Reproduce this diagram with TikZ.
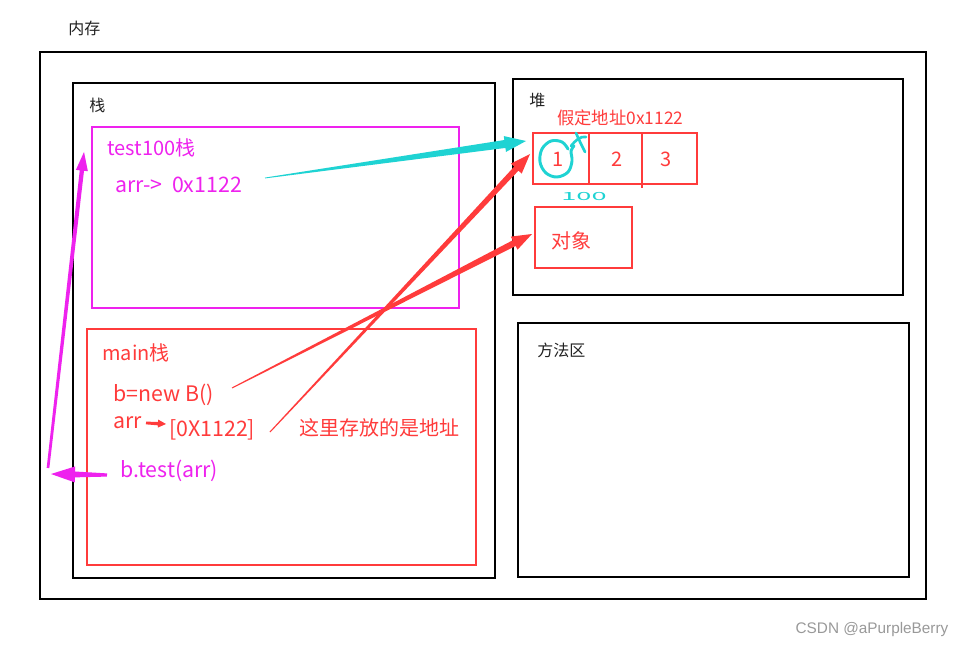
\documentclass[tikz,border=0pt]{standalone}
\usepackage{fontspec}
\setmainfont{Noto Sans CJK SC}
\newfontfamily\wmfont{Liberation Sans}
\usetikzlibrary{calc}
\definecolor{mag}{HTML}{EE22EE}
\definecolor{rd}{HTML}{FF3B3B}
\definecolor{cy}{HTML}{1FD3D3}
\definecolor{dk}{HTML}{222222}
\newcommand\taparrow[7]{%
 \coordinate (tH) at ($(#3)!#6!(#2)$);
 \fill[#1] ($(#2)!#4!90:(#3)$) -- ($(tH)!#5!-90:(#2)$) -- ($(tH)!#7!-90:(#2)$) -- (#3)
   -- ($(tH)!#7!90:(#2)$) -- ($(tH)!#5!90:(#2)$) -- ($(#2)!#4!-90:(#3)$) -- cycle;}
\begin{document}
\begin{tikzpicture}[x=0.75pt,y=-0.75pt,
  blk/.style={draw=black, line width=1.5pt},
  redbox/.style={draw=rd, line width=2pt},
  magbox/.style={draw=mag, line width=2pt},
  lbl/.style={anchor=west, inner sep=0pt, font=\fontsize{15}{18}\selectfont},
  lat/.style={anchor=west, inner sep=0pt, font=\fontsize{16}{19}\selectfont},
  sml/.style={anchor=west, inner sep=0pt, text=dk, font=\fontsize{12}{14}\selectfont},
  ]
\fill[white] (0,0) rectangle (970,649);
\useasboundingbox (0,0) rectangle (970,649);
% labels
\node[sml] (memt) at (68,28) {内存};
% boxes
\draw[blk] (40,52) rectangle (926,599);
\draw[blk] (73,83) rectangle (495,578);
\node[sml] (stackt) at (89,105) {栈};
\draw[magbox] (92,127) rectangle (459,308);
\node[lbl, text=mag] (t100) at (107,148) {test100栈};
\node[lat, text=mag] (arr1) at (115,185) {arr->\ \ 0x1122};
\draw[redbox] (87,329) rectangle (476,565);
\node[lbl, text=rd] (mainl) at (102,353) {main栈};
\node[lat, text=rd] (bnew) at (113,395) {b=new B()};
\node[lat, text=rd] (arr2) at (113,423) {arr};
\node[lat, text=rd] (addr) at (169,430) {[0X1122]};
\node[lat, text=mag] (btest) at (120,471) {b.test(arr)};
\node[lbl, text=rd] (note) at (299,428) {这里存放的是地址};
% heap
\draw[blk] (513,79) rectangle (903,295);
\node[sml] (heapt) at (529,100) {堆};
\node[anchor=west, inner sep=0pt, text=rd, font=\fontsize{13}{16}\selectfont] (fake) at (557,118) {假定地址0x1122};
\draw[redbox] (533,133) rectangle (697,184);
\draw[rd, line width=2pt] (589,133) -- (589,184);
\draw[rd, line width=2pt] (642,133) -- (642,188);
\node[inner sep=0pt, text=rd, font=\fontsize{15}{18}\selectfont] (c1) at (558,159) {1};
\node[inner sep=0pt, text=rd, font=\fontsize{15}{18}\selectfont] (c2) at (617,159) {2};
\node[inner sep=0pt, text=rd, font=\fontsize{15}{18}\selectfont] (c3) at (666,159) {3};
\draw[redbox] (535,207) rectangle (632,268);
\node[lbl, text=rd] (obj) at (551,241) {对象};
% method area
\draw[blk] (518,323) rectangle (909,577);
\node[sml] (meth) at (537,350) {方法区};
% cyan doodles
\draw[cy, line width=2.2pt, line cap=round] plot[smooth, tension=0.6] coordinates {(568,149) (562,142) (551,141) (542,149) (540,162) (546,173) (557,177) (568,172) (572,161) (571,151) (574,146)};
\draw[cy, line width=2pt, line cap=round] (571,146) .. controls (576,140) and (580,136) .. (586,137);
\draw[cy, line width=2pt, line cap=round] (576,133) .. controls (579,140) and (582,146) .. (585,152);
\node[inner sep=0pt, text=cy, font=\fontsize{12}{14}\selectfont, xscale=1.7, yscale=0.7] (hundred) at (584,197) {100};
% coordinates for connectors
\coordinate (cyS) at (265,178);
\coordinate (cyE) at (526,141);
\coordinate (r1S) at (232,388);
\coordinate (r1E) at (532,234);
\coordinate (r2S) at (270,432);
\coordinate (r2E) at (530,154);
\coordinate (mlS) at (107,475);
\coordinate (mlE) at (51,474);
\coordinate (muS) at (48,468);
\coordinate (muE) at (84,152);
\coordinate (saS) at (146,423);
\coordinate (saE) at (166,424);
% arrows
\taparrow{cy}{cyS}{cyE}{0.3pt}{3pt}{16pt}{6pt}
\taparrow{rd}{r1S}{r1E}{0.4pt}{2.4pt}{15pt}{5.5pt}
\taparrow{rd}{r2S}{r2E}{0.4pt}{2.2pt}{15pt}{5.5pt}
\taparrow{mag}{mlS}{mlE}{1.2pt}{2.2pt}{18pt}{6pt}
\taparrow{mag}{muS}{muE}{1pt}{1.6pt}{14pt}{4.5pt}
\taparrow{rd}{saS}{saE}{1pt}{1.3pt}{6pt}{3pt}
% watermark
\node[inner sep=0pt, text=black!40, font=\wmfont\fontsize{11.5}{14}\selectfont] (wm) at (872,630) {CSDN @aPurpleBerry};
\end{tikzpicture}
\end{document}
